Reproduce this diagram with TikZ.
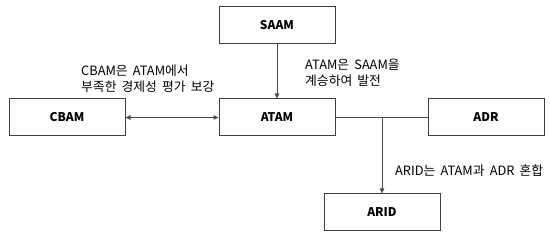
\documentclass[tikz,border=0pt]{standalone}
\usepackage{fontspec}
\setmainfont{Noto Sans CJK KR}
\newfontfamily\lblfont[WordSpace=1.8]{Noto Sans CJK KR}
\usetikzlibrary{arrows.meta}
\begin{document}
\begin{tikzpicture}[x=1pt,y=-1pt,
  box/.style={draw=black!75,line width=1pt,minimum width=116pt,minimum height=37pt,inner sep=0pt,font=\fontsize{12}{14}\selectfont\bfseries},
  conn/.style={draw=black!70,line width=0.6pt},
  tip/.style={-{Triangle[length=5pt,width=4.5pt]}},
  lbl/.style={align=left,anchor=north west,inner sep=0pt,font=\lblfont\fontsize{12.8}{16}\selectfont}]
\useasboundingbox (0,0) rectangle (550,237);
\node[box] (saam) at (277,25.5) {SAAM};
\node[box] (atam) at (277,117.5) {ATAM};
\node[box] (cbam) at (67,117.5) {CBAM};
\node[box] (adr) at (486,117.5) {ADR};
\node[box] (arid) at (382,212.5) {ARID};
\draw[conn,tip] (saam) -- (atam);
\draw[conn,{Triangle[length=5pt,width=4.5pt]}-{Triangle[length=5pt,width=4.5pt]}] (cbam) -- (atam);
\draw[conn] (atam) -- (adr);
\coordinate (j) at (arid.north |- atam.east);
\draw[conn,tip] (j) -- (arid);
\node[lbl] (l1) at (81,65) {CBAM은 ATAM에서\\부족한 경제성 평가 보강};
\node[lbl] (l2) at (305,59) {ATAM은 SAAM을\\계승하여 발전};
\node[lbl] (l3) at (395,165) {ARID는 ATAM과 ADR 혼합};
\end{tikzpicture}
\end{document}
